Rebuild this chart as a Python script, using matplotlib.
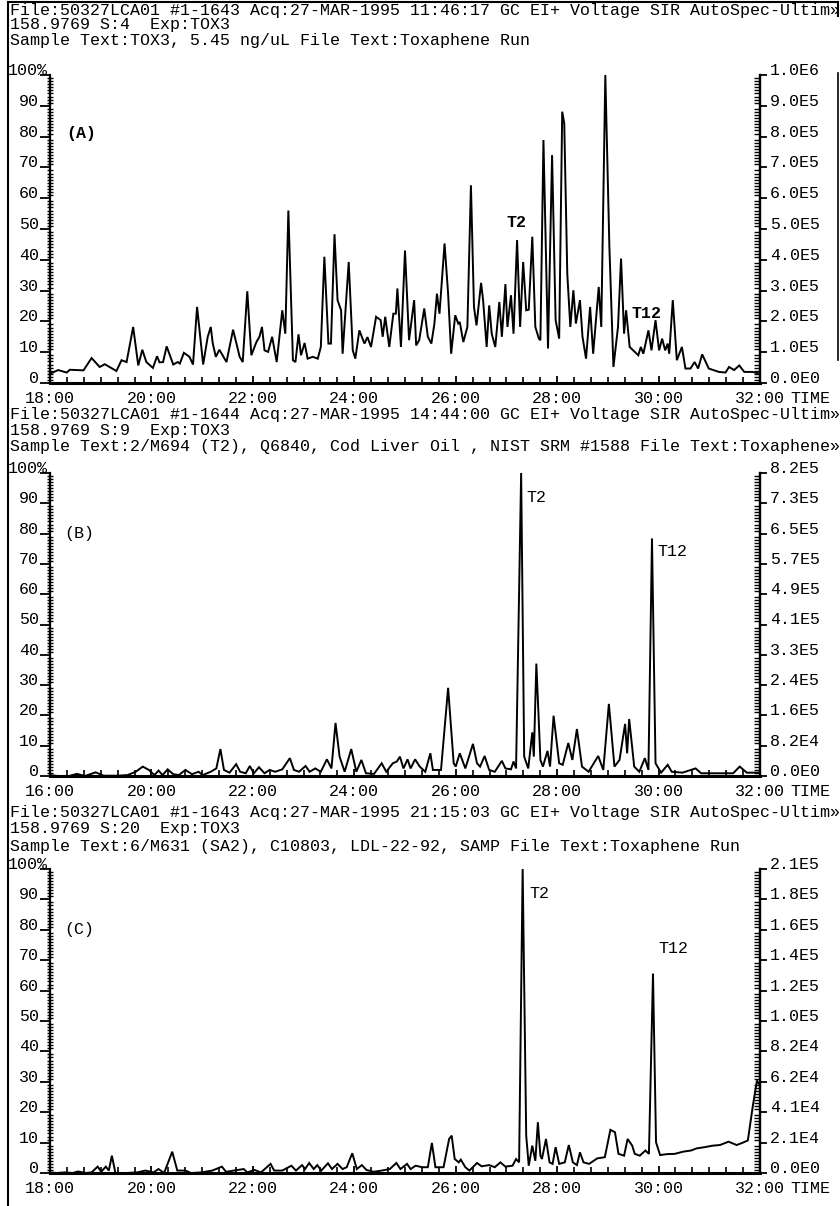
import matplotlib
matplotlib.use("Agg")
import matplotlib.pyplot as plt
from matplotlib.ticker import MultipleLocator
from matplotlib.transforms import ScaledTranslation
from matplotlib.lines import Line2D

plt.rcParams['font.family'] = ['Liberation Mono', 'DejaVu Sans Mono']
FS = 11.95

# ---------------- data ----------------
time_a = [18.00, 18.16, 18.33, 18.39, 18.66, 18.82, 18.98, 19.08, 19.31, 19.41, 19.51, 19.64, 19.74, 19.82, 19.90,
          20.03, 20.11, 20.16, 20.23, 20.30, 20.43, 20.52, 20.56, 20.64, 20.75, 20.82, 20.90, 21.02, 21.11, 21.17,
          21.21, 21.27, 21.34, 21.48, 21.61, 21.74, 21.80, 21.89, 21.97, 22.07, 22.13, 22.18, 22.23, 22.30, 22.38,
          22.47, 22.58, 22.64, 22.70, 22.79, 22.84, 22.90, 22.95, 23.02, 23.08, 23.18, 23.28, 23.34, 23.41, 23.49,
          23.54, 23.61, 23.67, 23.74, 23.77, 23.89, 23.97, 24.02, 24.10, 24.20, 24.26, 24.33, 24.43, 24.52, 24.56,
          24.61, 24.69, 24.77, 24.82, 24.85, 24.92, 25.00, 25.08, 25.18,
          25.22, 25.28, 25.38, 25.45, 25.52, 25.58, 25.63, 25.68, 25.78, 25.85, 25.91, 25.99, 26.05, 26.08, 26.15,
          26.23, 26.30, 26.36, 26.41, 26.50, 26.54, 26.61, 26.66, 26.71, 26.78, 26.86, 26.91, 26.98, 27.02, 27.09,
          27.14, 27.21, 27.27, 27.33, 27.39, 27.44, 27.51, 27.57, 27.64, 27.67, 27.73, 27.82, 27.90, 27.97, 28.04,
          28.10, 28.14, 28.20, 28.26, 28.32, 28.37, 28.45, 28.50, 28.57, 28.65, 28.71, 28.82, 28.87, 28.95, 29.03,
          29.11, 29.20, 29.26, 29.32, 29.36, 29.43, 29.50, 29.60, 29.65, 29.70, 29.80, 29.86, 29.94, 30.01, 30.07,
          30.13, 30.18, 30.21, 30.28, 30.36, 30.46, 30.53, 30.63, 30.71, 30.78, 30.86, 30.99, 31.19, 31.32, 31.39,
          31.49, 31.59, 31.69, 31.85, 32.00]
inten_a = [3.0, 4.2, 3.4, 4.3, 4.1, 8.1, 5.2, 6.1, 3.9, 7.4, 6.8, 18.2, 5.7, 10.8, 6.8,
           4.9, 8.7, 6.7, 6.8, 11.9, 6.0, 6.8, 6.3, 9.8, 8.5, 6.0, 24.7, 6.0, 15.0, 18.2,
           12.8, 8.5, 10.8, 6.8, 17.3, 8.5, 6.8, 29.8, 9.0, 13.3, 15.0, 18.2, 10.6, 10.1, 15.0,
           6.8, 23.6, 16.0, 56.0, 7.4, 6.8, 15.8, 9.0, 13.0, 7.9, 8.5, 7.9, 11.7, 41.0, 12.8,
           12.8, 48.3, 26.9, 23.6, 9.5, 39.3, 10.6, 7.9, 17.1, 12.8, 14.9, 11.7, 21.5, 20.4, 15.0,
           21.5, 11.7, 22.5, 22.5, 30.7, 11.7, 43.0, 13.9, 26.9,
           12.2, 13.9, 24.2, 15.0, 12.8, 19.3, 29.0, 22.5, 45.3, 29.0, 9.5, 22.0, 19.3, 19.8, 13.3,
           18.2, 64.2, 24.7, 18.7, 32.5, 26.9, 11.7, 25.2, 16.0, 11.7, 26.3, 15.0, 32.1, 18.2, 28.5,
           16.0, 46.4, 18.2, 39.3, 23.6, 23.8, 47.5, 18.2, 14.4, 13.9, 78.9, 11.2, 74.0, 20.4, 14.4,
           88.1, 84.3, 35.5, 18.2, 30.1, 19.3, 26.9, 15.0, 7.9, 24.7, 9.5, 31.2, 18.2, 100.0, 44.2,
           5.2, 18.2, 40.4, 16.0, 23.6, 11.7, 10.6, 9.0, 11.7, 9.5, 17.1, 10.6, 20.4, 10.6, 14.4,
           10.6, 12.8, 9.5, 26.9, 7.4, 11.7, 4.7, 4.7, 6.8, 4.7, 9.3, 4.7, 3.6, 3.4, 5.2,
           4.2, 5.7, 3.6, 3.6, 3.0]

time_b = [18.00, 18.16, 18.37, 18.53, 18.69, 18.90, 19.06, 19.32, 19.53, 19.69, 19.83, 19.95, 20.06, 20.14, 20.22,
          20.32, 20.43, 20.54, 20.67, 20.80, 20.93, 21.01, 21.17, 21.28, 21.36, 21.43, 21.54, 21.67, 21.75, 21.86,
          21.94, 22.02, 22.12, 22.23, 22.33, 22.44, 22.58, 22.73, 22.81, 22.91, 23.04, 23.12, 23.23, 23.34, 23.46,
          23.55, 23.63, 23.71, 23.81, 23.94, 24.04, 24.14, 24.23, 24.39, 24.54, 24.63, 24.76, 24.84, 24.90, 24.97,
          25.05, 25.11, 25.20, 25.29, 25.40, 25.50, 25.55, 25.71, 25.85, 25.96, 26.00, 26.08, 26.19, 26.34, 26.42,
          26.48, 26.57, 26.66, 26.77, 26.91, 26.98, 27.09, 27.14, 27.19, 27.29, 27.35, 27.43, 27.51, 27.54, 27.59,
          27.67, 27.72, 27.81, 27.86, 27.93, 28.04, 28.11, 28.22, 28.30, 28.39, 28.49, 28.62, 28.81, 28.91, 29.02,
          29.13, 29.23, 29.34, 29.38, 29.42, 29.52, 29.62, 29.73, 29.80, 29.87, 29.94, 30.05, 30.18, 30.26, 30.47,
          30.73, 30.84, 31.16, 31.47, 31.60, 31.74, 32.00]
inten_b = [0.3, 0.0, 0.0, 0.7, 0.0, 1.2, 0.1, 0.1, 0.3, 1.4, 3.1, 2.0, 0.3, 1.8, 0.3,
           2.2, 0.6, 0.3, 2.0, 0.6, 1.4, 0.3, 1.4, 2.5, 8.9, 2.0, 1.1, 3.9, 1.4, 0.9,
           3.3, 0.9, 2.9, 0.9, 2.0, 1.4, 2.2, 5.9, 2.0, 1.4, 3.3, 1.4, 2.5, 1.4, 5.5,
           2.5, 17.5, 6.4, 1.4, 8.9, 1.4, 5.3, 0.9, 0.7, 4.2, 1.4, 4.2, 4.8, 6.4, 2.5,
           5.5, 2.5, 5.5, 3.1, 1.4, 7.5, 2.0, 2.0, 29.1, 4.2, 3.1, 7.5, 2.5, 10.6, 4.2,
           3.1, 6.6, 2.0, 1.4, 5.0, 2.5, 2.2, 4.8, 2.5, 100.0, 6.4, 2.5, 14.4, 6.4, 37.1,
           5.3, 3.1, 8.3, 3.1, 19.9, 4.2, 3.7, 10.9, 5.3, 15.5, 3.1, 1.4, 6.6, 2.0, 23.8,
           3.1, 5.3, 17.2, 7.5, 18.8, 3.1, 1.4, 5.9, 2.0, 78.4, 4.2, 1.1, 3.7, 1.4, 1.1,
           2.5, 0.9, 0.9, 0.9, 3.1, 1.1, 1.1]

time_c = [18.00, 18.13, 18.29, 18.45, 18.55, 18.71, 18.82, 18.94, 19.01, 19.10, 19.16, 19.22, 19.29, 19.51, 19.72,
          19.88, 20.04, 20.14, 20.25, 20.41, 20.51, 20.67, 20.78, 20.99, 21.20, 21.39, 21.47, 21.63, 21.82, 21.89,
          22.03, 22.16, 22.35, 22.42, 22.58, 22.76, 22.85, 22.97, 23.03, 23.11, 23.20, 23.27, 23.35, 23.48, 23.56,
          23.67, 23.77, 23.85, 23.96, 24.05, 24.15, 24.24, 24.38, 24.54, 24.70, 24.83, 24.91, 25.04, 25.11, 25.21,
          25.34, 25.45, 25.53, 25.60, 25.76, 25.87, 25.92, 25.98, 26.06, 26.10, 26.19, 26.27, 26.42, 26.51, 26.66,
          26.77, 26.88, 26.98, 27.12, 27.19, 27.25, 27.32, 27.39, 27.44, 27.51, 27.57, 27.62, 27.67, 27.70, 27.78,
          27.85, 27.91, 27.97, 28.04, 28.15, 28.23, 28.31, 28.39, 28.45, 28.52, 28.63, 28.79, 28.94, 29.05, 29.14,
          29.21, 29.32, 29.39, 29.48, 29.53, 29.63, 29.74, 29.81, 29.89, 29.95, 30.03, 30.16, 30.32, 30.48, 30.64,
          30.75, 30.91, 31.07, 31.21, 31.38, 31.54, 31.65, 31.76, 31.86, 31.94, 32.00]
inten_c = [0.2, 0.0, 0.2, 0.0, 0.5, 0.0, 0.2, 2.1, 0.4, 2.1, 0.8, 5.7, 0.0, 0.0, 0.2,
           0.8, 0.2, 1.3, 0.0, 7.0, 0.8, 0.8, 0.0, 0.2, 0.8, 2.1, 0.4, 0.8, 1.3, 0.2,
           1.0, 0.2, 3.0, 0.8, 0.8, 2.4, 0.8, 2.6, 1.3, 3.3, 1.3, 2.6, 0.8, 3.2, 1.3,
           3.0, 1.3, 1.9, 6.5, 1.3, 2.6, 1.0, 0.4, 0.8, 1.3, 3.3, 1.3, 3.0, 1.3, 2.4,
           1.9, 1.9, 9.9, 1.9, 1.9, 11.2, 12.3, 4.6, 3.5, 4.4, 1.9, 0.8, 3.3, 2.2, 2.6,
           1.9, 3.5, 2.1, 2.4, 4.6, 3.5, 100.0, 12.3, 2.4, 9.0, 4.0, 16.7, 5.7, 4.6, 11.2,
           3.5, 3.0, 8.5, 3.0, 3.5, 9.2, 3.5, 2.6, 6.8, 3.5, 3.0, 4.8, 5.2, 14.2, 13.4,
           6.3, 5.7, 11.2, 9.0, 6.3, 5.7, 7.4, 6.3, 65.6, 10.1, 5.9, 6.2, 6.3, 7.0, 7.4,
           8.1, 8.5, 9.0, 9.2, 10.3, 9.2, 9.9, 10.7, 22.2, 30.4, 28.8]

left_labels = ['0', '10', '20', '30', '40', '50', '60', '70', '80', '90', '100%']
right_a = ['0.0E0', '1.0E5', '2.0E5', '3.0E5', '4.0E5', '5.0E5', '6.0E5', '7.0E5', '8.0E5', '9.0E5', '1.0E6']
right_b = ['0.0E0', '8.2E4', '1.6E5', '2.4E5', '3.3E5', '4.1E5', '4.9E5', '5.7E5', '6.5E5', '7.3E5', '8.2E5']
right_c = ['0.0E0', '2.1E4', '4.1E4', '6.2E4', '8.2E4', '1.0E5', '1.2E5', '1.4E5', '1.6E5', '1.8E5', '2.1E5']
x_ticks = [18, 20, 22, 24, 26, 28, 30, 32]
x_labels_ac = ['18:00', '20:00', '22:00', '24:00', '26:00', '28:00', '30:00', '32:00']
x_labels_b = ['16:00', '20:00', '22:00', '24:00', '26:00', '28:00', '30:00', '32:00']

headers_a = ["File:50327LCA01 #1-1643 Acq:27-MAR-1995 11:46:17 GC EI+ Voltage SIR AutoSpec-Ultim\u00bb",
             "158.9769 S:4  Exp:TOX3",
             "Sample Text:TOX3, 5.45 ng/uL File Text:Toxaphene Run"]
headers_b = ["File:50327LCA01 #1-1644 Acq:27-MAR-1995 14:44:00 GC EI+ Voltage SIR AutoSpec-Ultim\u00bb",
             "158.9769 S:9  Exp:TOX3",
             "Sample Text:2/M694 (T2), Q6840, Cod Liver Oil , NIST SRM #1588 File Text:Toxaphene\u00bb"]
headers_c = ["File:50327LCA01 #1-1643 Acq:27-MAR-1995 21:15:03 GC EI+ Voltage SIR AutoSpec-Ultim\u00bb",
             "158.9769 S:20  Exp:TOX3",
             "Sample Text:6/M631 (SA2), C10803, LDL-22-92, SAMP File Text:Toxaphene Run"]

# annotation labels: (text, time, intensity)
notes_a = [('(A)', 18.62, 81), ('T2', 27.2, 52), ('T12', 29.76, 22.5)]
notes_b = [('(B)', 18.58, 80), ('T2', 27.6, 92), ('T12', 30.28, 74)]
notes_c = [('(C)', 18.57, 80), ('T2', 27.65, 92), ('T12', 30.30, 74)]

# ---------------- layout ----------------
W, H = 840, 1206
fig = plt.figure(figsize=(W / 100, H / 100), dpi=100)
fig.patch.set_facecolor('white')
PAD = 5.5


def panel(top, bottom, header_y, headers, t, v, rlabels, xlabels, notes, bold):
    for hy, txt in zip(header_y, headers):
        fig.text(10 / W, 1 - hy / H, txt, fontsize=FS, va='center', ha='left')
    ax = fig.add_axes([50 / W, 1 - bottom / H, 710 / W, (bottom - top) / H])
    ax.plot(t, v, color='black', lw=1.4, clip_on=False, solid_joinstyle='miter')
    ax.set_xlim(18, 32)
    ax.set_ylim(0, 100)
    ax.spines['top'].set_visible(False)
    ax.spines['left'].set_linewidth(1.6)
    ax.spines['right'].set_linewidth(1.6)
    ax.spines['bottom'].set_linewidth(2.2)
    ax.set_xticks(x_ticks)
    ax.set_xticklabels(xlabels, fontsize=FS)
    ax.xaxis.set_minor_locator(MultipleLocator(1 / 3))
    ax.tick_params(axis='x', which='major', direction='in', length=5, width=1.3, pad=PAD)
    ax.tick_params(axis='x', which='minor', direction='in', length=4, width=1.2)
    ax.set_yticks(range(0, 101, 10))
    ax.set_yticklabels(left_labels, fontsize=FS, va='baseline')
    ax.yaxis.set_minor_locator(MultipleLocator(1))
    ax.tick_params(axis='y', which='major', direction='out', length=7, width=1.3, pad=1)
    ax.tick_params(axis='y', which='minor', direction='inout', length=4, width=1.0)
    top_tick = ax.yaxis.get_major_ticks()[-1]
    top_tick.label1.set_transform(top_tick.label1.get_transform() +
                                  ScaledTranslation(0.09, 0, fig.dpi_scale_trans))

    ax2 = ax.twinx()
    ax2.set_ylim(0, 100)
    for s in ('top', 'left', 'bottom'):
        ax2.spines[s].set_visible(False)
    ax2.spines['right'].set_linewidth(1.6)
    ax2.set_yticks(range(0, 101, 10))
    ax2.set_yticklabels(rlabels, fontsize=FS, va='baseline')
    ax2.yaxis.set_minor_locator(MultipleLocator(1))
    ax2.tick_params(axis='y', which='major', direction='out', length=5, width=1.3, pad=2)
    ax2.tick_params(axis='y', which='minor', direction='in', length=4, width=1.0)

    for txt, tx, vy in notes:
        ax.text(tx, vy, txt, fontsize=FS, ha='center', va='center',
                fontweight='bold' if bold else 'normal')
    ax.annotate('TIME', xy=(1, 0), xycoords='axes fraction', xytext=(30, -PAD * 100 / 72),
                textcoords='offset pixels', ha='left', va='top', fontsize=FS)
    return ax


panel(75, 383, [10, 25, 40], headers_a, time_a, inten_a, right_a, x_labels_ac, notes_a, True)
panel(473, 776, [415, 431, 447], headers_b, time_b, inten_b, right_b, x_labels_b, notes_b, False)
panel(869, 1173, [813, 829, 846], headers_c, time_c, inten_c, right_c, x_labels_ac, notes_c, False)

# page frame lines
fig.add_artist(Line2D([8 / W, 8 / W], [0, 1 - 2 / H], transform=fig.transFigure, color='black', lw=1.5))
fig.add_artist(Line2D([8 / W, 838 / W], [1 - 2 / H, 1 - 2 / H], transform=fig.transFigure, color='black', lw=1.5))
fig.add_artist(Line2D([838 / W, 838 / W], [1 - 2 / H, 1 - 16 / H], transform=fig.transFigure, color='black', lw=1.5))
fig.add_artist(Line2D([838 / W, 838 / W], [1 - 73 / H, 1 - 360 / H], transform=fig.transFigure, color='black', lw=1.2))

fig.savefig('out.png', dpi=100, facecolor='white')
